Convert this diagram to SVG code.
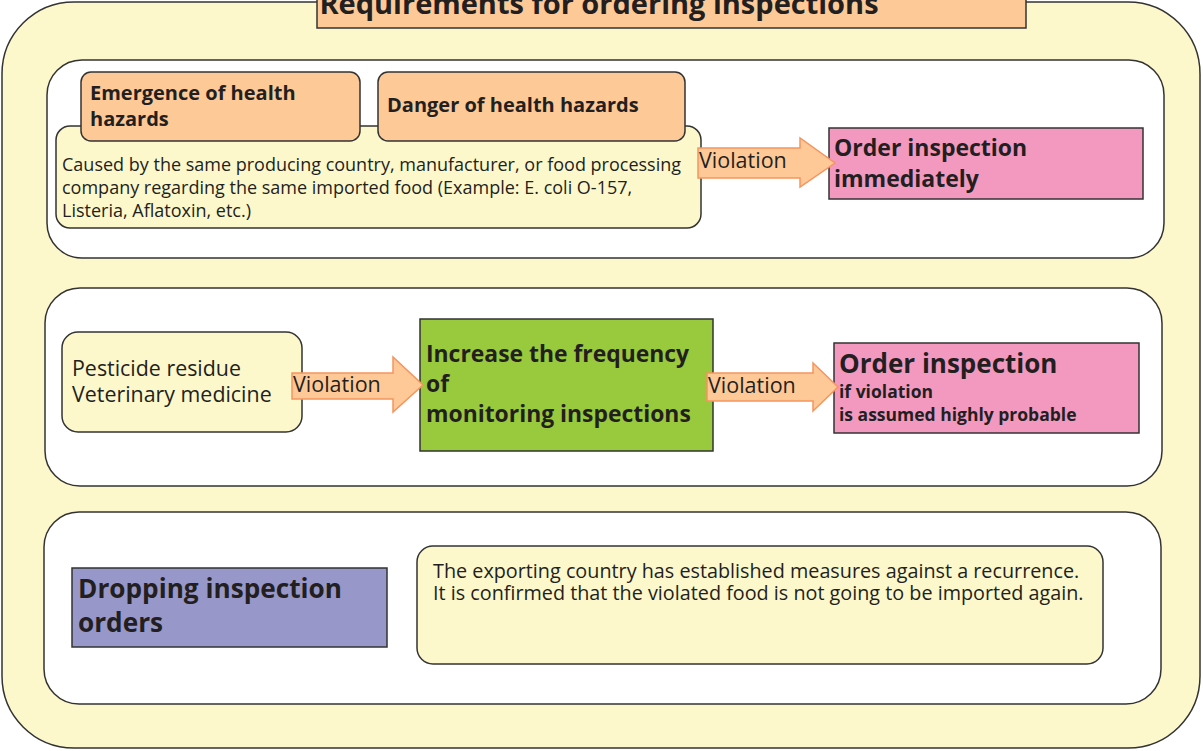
<svg xmlns="http://www.w3.org/2000/svg" width="1203" height="751" viewBox="0 0 1203 751">
<defs>
<style>
text{font-family:"Open Sans","Liberation Sans",sans-serif;fill:#231F20}
.b{font-weight:bold}
.panel{fill:#FFFFFF;stroke:#333;stroke-width:1.5}
.yel{fill:#FCF8CC;stroke:#333;stroke-width:1.5}
.org{fill:#FDC997;stroke:#333;stroke-width:1.5}
.pink{fill:#F399C0;stroke:#333;stroke-width:1.5}
.arrow{fill:#FEC997;stroke:#F5955E;stroke-width:1.5}
.v{font-size:21.5px}
</style>
</defs>
<g id="outer">
<rect x="2" y="2" width="1198" height="746" rx="72" class="yel"/>
</g>
<g id="title">
<rect x="317" y="-10" width="709" height="38" class="org"/>
<text x="599" y="14" text-anchor="middle" class="b" font-size="29">Requirements for ordering inspections</text>
</g>
<g id="panel1"><rect x="47" y="60" width="1117" height="198" rx="35" class="panel"/></g>
<g id="panel2"><rect x="45" y="288" width="1117" height="198" rx="35" class="panel"/></g>
<g id="panel3"><rect x="44" y="512" width="1117" height="192" rx="35" class="panel"/></g>

<g id="cause">
<rect x="56" y="126" width="645" height="102" rx="14" class="yel"/>
<text x="62" y="171" font-size="18">Caused by the same producing country, manufacturer, or food processing</text>
<text x="62" y="194" font-size="18">company regarding the same imported food (Example: E. coli O-157,</text>
<text x="62" y="217" font-size="18">Listeria, Aflatoxin, etc.)</text>
</g>
<g id="emergence">
<rect x="81" y="72" width="279" height="69" rx="10" class="org"/>
<text x="90" y="100" class="b" font-size="20">Emergence of health</text>
<text x="90" y="126" class="b" font-size="20">hazards</text>
</g>
<g id="danger">
<rect x="378" y="72" width="307" height="69" rx="10" class="org"/>
<text x="387" y="112" class="b" font-size="20">Danger of health hazards</text>
</g>
<g id="order1">
<rect x="829" y="128" width="314" height="71" class="pink"/>
<text x="834" y="156" class="b" font-size="23">Order inspection</text>
<text x="834" y="187" class="b" font-size="23">immediately</text>
</g>

<g id="residue">
<rect x="62" y="332" width="240" height="100" rx="16" class="yel"/>
<text x="72" y="376" font-size="21.4">Pesticide residue</text>
<text x="72" y="402" font-size="21.4">Veterinary medicine</text>
</g>
<g id="increase">
<rect x="420" y="319" width="293" height="132" fill="#99C93C" stroke="#333" stroke-width="1.5"/>
<text x="426" y="362" class="b" font-size="22.9">Increase the frequency</text>
<text x="426" y="392" class="b" font-size="22.9">of</text>
<text x="426" y="422" class="b" font-size="22.9">monitoring inspections</text>
</g>
<g id="order2">
<rect x="834" y="343" width="305" height="90" class="pink"/>
<text x="839" y="373" class="b" font-size="26">Order inspection</text>
<text x="839" y="398" class="b" font-size="17.5">if violation</text>
<text x="839" y="421" class="b" font-size="17.5">is assumed highly probable</text>
</g>

<g id="dropping">
<rect x="72" y="568" width="315" height="79" fill="#9797C9" stroke="#333" stroke-width="1.5"/>
<text x="78" y="598" class="b" font-size="26.2">Dropping inspection</text>
<text x="78" y="632" class="b" font-size="26.2">orders</text>
</g>
<g id="measures">
<rect x="417" y="546" width="686" height="118" rx="16" class="yel"/>
<text x="433" y="578" font-size="19.8">The exporting country has established measures against a recurrence.</text>
<text x="433" y="600" font-size="19.8">It is confirmed that the violated food is not going to be imported again.</text>
</g>

<g id="connectors">
<path class="arrow" d="M698,148 H800 V138 L835,163 L800,187 V178 H698 Z"/>
<text x="699" y="168" class="v">Violation</text>
<path class="arrow" d="M292,373 H393 V357 L423,385 L393,412 V399 H292 Z"/>
<text x="293" y="392" class="v">Violation</text>
<path class="arrow" d="M707,373 H813 V363 L838,387 L813,411 V401 H707 Z"/>
<text x="708" y="393" class="v">Violation</text>
</g>
</svg>
